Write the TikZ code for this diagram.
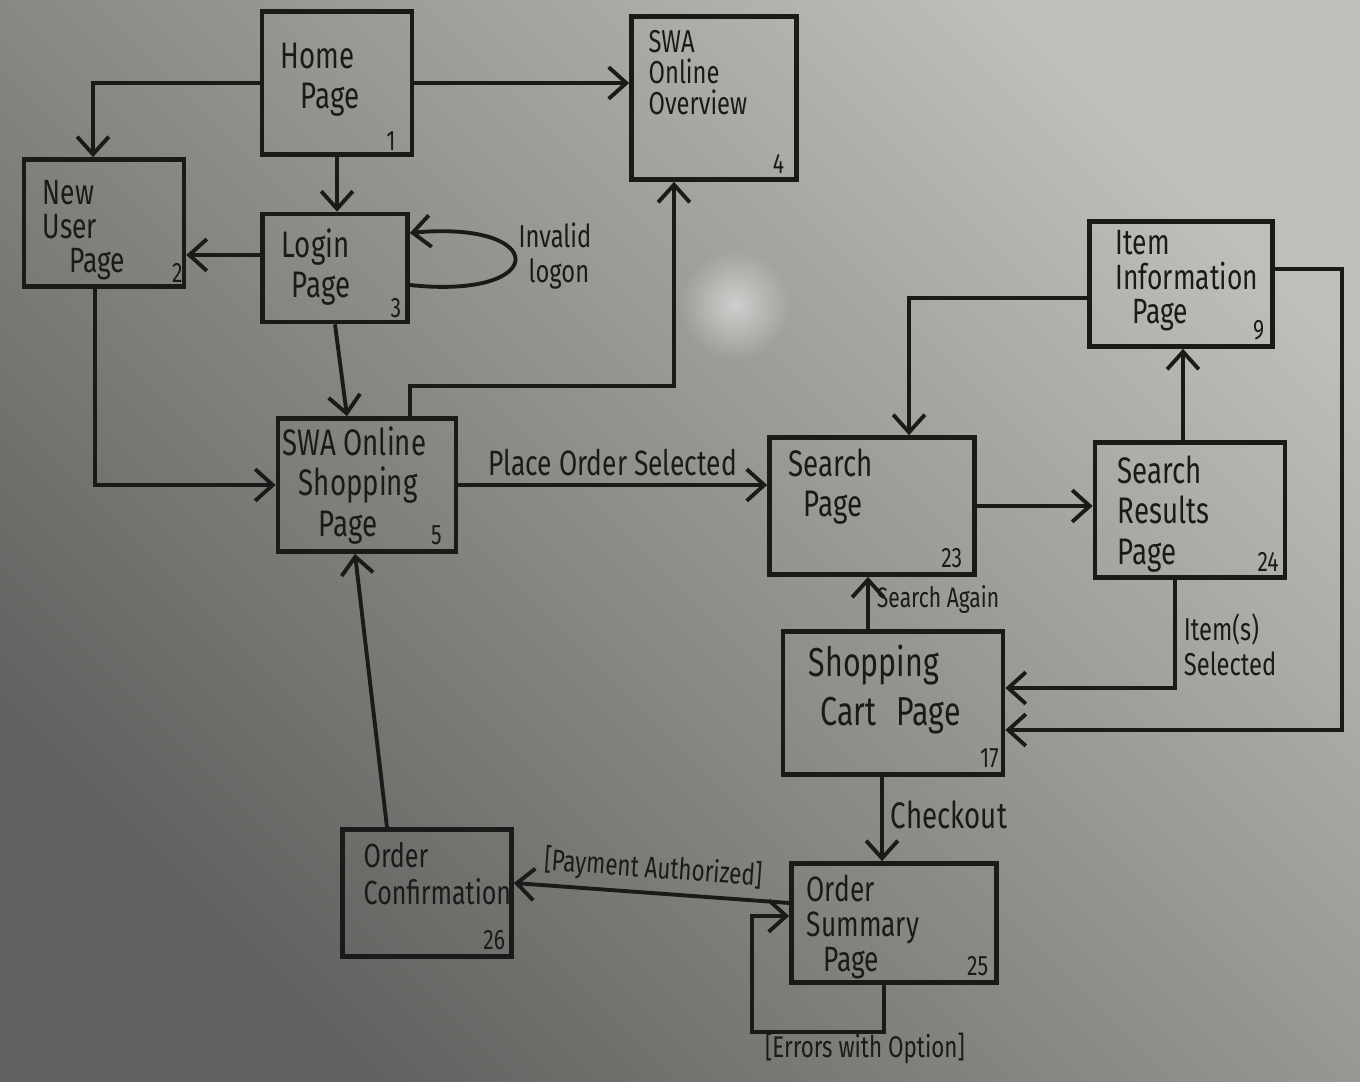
\documentclass[tikz,border=0pt]{standalone}
\usepackage{fontspec}
\setmainfont{Fira Sans}[FakeStretch=0.75]
\usetikzlibrary{arrows.meta,positioning,calc,fadings}
\definecolor{ink}{RGB}{28,26,24}
\definecolor{boarddark}{RGB}{98,96,94}
\definecolor{boardlight}{RGB}{192,190,186}
\tikzfading[name=glare, inner color=transparent!50, outer color=transparent!100]
\tikzset{
  page/.style={draw=ink, line width=1.3pt, inner sep=0pt},
  pagetext/.style={anchor=north west, align=left, inner sep=0pt, text=ink, font=\fontsize{10.5}{11.5}\selectfont},
  pagenum/.style={anchor=south east, inner sep=0pt, text=ink, font=\fontsize{8}{9}\selectfont},
  note/.style={text=ink, align=left, inner sep=2pt, font=\fontsize{9}{10}\selectfont},
  link/.style={draw=ink, line width=1.1pt, -{Straight Barb[length=5pt,width=9pt]}},
}

\begin{document}
\begin{tikzpicture}[x=0.01cm, y=-0.01cm]
    % Whiteboard
    \useasboundingbox (0,0) rectangle (1360,1082);
    \shade[top color=boardlight, bottom color=boarddark, shading angle=-45] (0,0) rectangle (1360,1082);
    \fill[white, path fading=glare] (735,305) circle (0.55cm);

    % Pages
    \node[page, minimum width=1.50cm, minimum height=1.43cm] (home) at (337,83) {};
    \node[page, minimum width=1.65cm, minimum height=1.63cm] (over) at (714,98) {};
    \node[page, minimum width=1.60cm, minimum height=1.27cm] (newu) at (104,223) {};
    \node[page, minimum width=1.45cm, minimum height=1.08cm] (login) at (335,268) {};
    \node[page, minimum width=1.78cm, minimum height=1.33cm] (shop) at (367,485) {};
    \node[page, minimum width=2.05cm, minimum height=1.37cm] (search) at (872,506) {};
    \node[page, minimum width=1.90cm, minimum height=1.35cm] (results) at (1190,510) {};
    \node[page, minimum width=1.83cm, minimum height=1.25cm] (item) at (1181,284) {};
    \node[page, minimum width=2.20cm, minimum height=1.43cm] (cart) at (893,703) {};
    \node[page, minimum width=2.05cm, minimum height=1.19cm] (summary) at (894,923) {};
    \node[page, minimum width=1.69cm, minimum height=1.27cm] (confirm) at (427,893) {};

    % Page titles
    \node[pagetext] (hometext) at (280,42) {Home\\\hspace*{0.2cm}Page};
    \node[pagetext, font=\fontsize{9}{8.8}\selectfont] (overtext) at (648,30) {SWA\\Online\\Overview};
    \node[pagetext, font=\fontsize{10}{9.6}\selectfont] (newutext) at (42,180) {New\\User\\\hspace*{0.27cm}Page};
    \node[pagetext] (logintext) at (281,228) {Login\\\hspace*{0.1cm}Page};
    \node[pagetext] (shoptext) at (282,426) {SWA Online\\\hspace*{0.16cm}Shopping\\\hspace*{0.36cm}Page};
    \node[pagetext] (searchtext) at (788,448) {Search\\\hspace*{0.15cm}Page};
    \node[pagetext] (resultstext) at (1117,455) {Search\\Results\\Page};
    \node[pagetext, font=\fontsize{10}{9.8}\selectfont] (itemtext) at (1115,230) {Item\\Information\\\hspace*{0.17cm}Page};
    \node[pagetext, font=\fontsize{11.5}{14}\selectfont] (carttext) at (808,644) {Shopping\\\hspace*{0.12cm}Cart\hspace{0.2cm}Page};
    \node[pagetext, font=\fontsize{10}{10}\selectfont] (summarytext) at (806,874) {Order\\Summary\\\hspace*{0.17cm}Page};
    \node[pagetext, font=\fontsize{9.5}{10.5}\selectfont] (confirmtext) at (363,842) {Order\\Confirmation};

    % Page numbers
    \node[pagenum] (homenum) at ([shift={(-18,-6)}]home.south east) {1};
    \node[pagenum] (overnum) at ([shift={(-14,-8)}]over.south east) {4};
    \node[pagenum] (newunum) at ([shift={(-3,-6)}]newu.south east) {2};
    \node[pagenum] (loginnum) at ([shift={(-8,-6)}]login.south east) {3};
    \node[pagenum] (shopnum) at ([shift={(-16,-8)}]shop.south east) {5};
    \node[pagenum] (searchnum) at ([shift={(-14,-8)}]search.south east) {23};
    \node[pagenum] (resultsnum) at ([shift={(-8,-8)}]results.south east) {24};
    \node[pagenum] (itemnum) at ([shift={(-10,-8)}]item.south east) {9};
    \node[pagenum] (cartnum) at ([shift={(-6,-8)}]cart.south east) {17};
    \node[pagenum] (summarynum) at ([shift={(-10,-8)}]summary.south east) {25};
    \node[pagenum] (confirmnum) at ([shift={(-8,-8)}]confirm.south east) {26};

    % Links
    \draw[link] (home.west) -| ([xshift=-0.11cm]newu.north);
    \draw[link] (home.east) -- (home.east -| over.west);
    \draw[link] (home.south) -- (home.south |- login.north);
    \draw[link] ([yshift=0.13cm]login.west) -- ([yshift=0.13cm]login.west -| newu.east);
    \draw[link] ([yshift=-0.17cm]login.east) .. controls (550,300) and (550,220) .. ([yshift=0.35cm]login.east);
    \node[note] (invalid) at (555,256) {Invalid\\\hspace*{0.1cm}logon};
    \draw[link] ([xshift=-0.09cm]newu.south) |- (shop.west);
    \draw[link] (login.south) -- ([xshift=-0.2cm]shop.north);
    \draw[link] ([xshift=0.43cm]shop.north) -- ++(0,-30) -| ([xshift=-0.4cm]over.south);
    \draw[link] (shop.east) -- (shop.east -| search.west)
        node[note, above, midway, font=\fontsize{10}{11}\selectfont] (placeorder) {Place Order Selected};
    \draw[link] ([yshift=-0.14cm]item.west) -| ([xshift=0.37cm]search.north);
    \draw[link] (search.east) -- (search.east -| results.west);
    \draw[link] ([xshift=-0.07cm]results.north) -- ([xshift=-0.07cm]results.north |- item.south);
    \draw[link] ([xshift=-0.15cm]results.south) |- ([yshift=0.15cm]cart.east)
        node[note, anchor=west, pos=0.3] (itemsel) {Item(s)\\Selected};
    \draw[link] ([yshift=0.15cm]item.east) -- ++(67,0) |- ([yshift=-0.27cm]cart.east);
    \draw[link] ([xshift=-0.25cm]cart.north) -- ([xshift=-0.25cm]cart.north |- search.south)
        node[note, anchor=west, pos=0.56, font=\fontsize{8}{9}\selectfont] (again) {Search Again};
    \draw[link] ([xshift=-0.11cm]cart.south) -- ([xshift=-0.11cm]cart.south |- summary.north)
        node[note, anchor=west, pos=0.45, font=\fontsize{10.5}{11}\selectfont] (checkout) {Checkout};
    \draw[link] ([yshift=0.2cm]summary.west) -- ([yshift=0.1cm]confirm.east)
        node[note, above, sloped, midway, font=\fontsize{8.5}{9}\selectfont] (payment) {[Payment Authorized]};
    \draw[link] ([xshift=-0.1cm]summary.south) -- ++(0,47) -- ++(-132,0) |- ([yshift=0.07cm]summary.west);
    \node[note, font=\fontsize{8.5}{9}\selectfont] (errors) at (865,1048) {[Errors with Option]};
    \draw[link] ([xshift=-0.4cm]confirm.north) -- ([xshift=-0.12cm]shop.south);
\end{tikzpicture}
\end{document}
